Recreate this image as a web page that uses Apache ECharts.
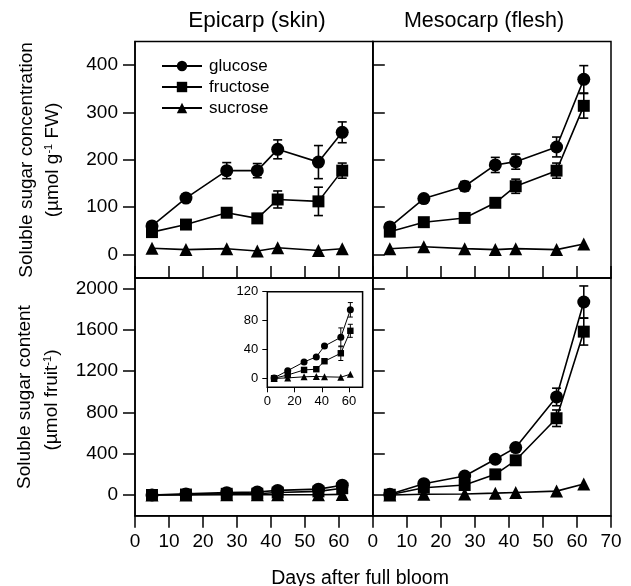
<!DOCTYPE html>
<html><head><meta charset="utf-8">
<script src="https://cdn.jsdelivr.net/npm/echarts@6/dist/echarts.min.js"></script>
<style>html,body{margin:0;padding:0;background:#fff}#c{width:631px;height:586px}</style>
</head><body><div id="c"></div>
<script>
// ---- data ----
const daysEpi = [5, 15, 27, 36, 42, 54, 61];
const daysMeso = [5, 15, 27, 36, 42, 54, 62];

// Concentration (µmol g-1 FW)
const epiConcGlucose = [60, 119, 177, 177, 222, 195, 258];
const epiConcGlucoseErr = [5, 8, 17, 15, 20, 35, 22];
const epiConcFructose = [47, 63, 88, 76, 116, 112, 177];
const epiConcFructoseErr = [4, 5, 8, 10, 18, 30, 16];
const epiConcSucrose = [13, 10, 12, 7, 14, 8, 12];

const mesoConcGlucose = [58, 118, 144, 189, 196, 227, 370];
const mesoConcGlucoseErr = [4, 6, 10, 16, 16, 21, 29];
const mesoConcFructose = [48, 68, 77, 109, 144, 177, 314];
const mesoConcFructoseErr = [3, 4, 5, 8, 15, 16, 26];
const mesoConcSucrose = [12, 16, 12, 10, 12, 10, 22];

// Content (µmol fruit-1)
const epiContGlucose = [1, 11, 23, 30, 45, 57, 95];
const epiContGlucoseErr = [0, 1, 1, 2, 2, 13, 10];
const epiContFructose = [0.5, 5, 12, 13, 24, 35, 66];
const epiContFructoseErr = [0, 0.5, 1, 1, 1, 10, 9];
const epiContSucrose = [0.2, 1, 2.5, 3, 2.5, 2, 6];

const mesoContGlucose = [7, 110, 184, 346, 459, 949, 1868];
const mesoContGlucoseErr = [2, 10, 15, 20, 25, 85, 155];
const mesoContFructose = [3, 71, 97, 200, 336, 743, 1581];
const mesoContFructoseErr = [2, 8, 10, 15, 20, 80, 130];
const mesoContSucrose = [1, 7, 10, 18, 25, 38, 106];

const concTicks = [0, 100, 200, 300, 400];
const contTicks = [0, 400, 800, 1200, 1600, 2000];
const insetYTicks = [0, 40, 80, 120];
const insetXTicks = [0, 20, 40, 60];
const seriesNames = ['glucose', 'fructose', 'sucrose'];

// ---- helpers ----
const FONT = "'Liberation Sans', Arial, Helvetica, sans-serif";
const symbols = {glucose: 'circle', fructose: 'rect', sucrose: 'triangle'};

function lineS(name, gi, xs, ys, size, lw) {
  return {
    type: 'line', name: name, xAxisIndex: gi, yAxisIndex: gi,
    data: xs.map((x, i) => [x, ys[i]]),
    symbol: symbols[name], symbolSize: name === 'fructose' ? size * 0.92 : size,
    showSymbol: true, showAllSymbol: true,
    lineStyle: {color: '#000', width: lw}, itemStyle: {color: '#000', borderWidth: 0},
    z: 4, clip: false, animation: false, emphasis: {disabled: true}
  };
}
function errS(gi, xs, ys, es, cap, lw) {
  return {
    type: 'custom', xAxisIndex: gi, yAxisIndex: gi, z: 3, clip: false, animation: false,
    data: xs.map((x, i) => [x, ys[i], es[i]]),
    encode: {x: 0, y: 1},
    renderItem: function (params, api) {
      const x = api.value(0), y = api.value(1), e = api.value(2);
      if (!e) return null;
      const hi = api.coord([x, y + e]);
      const lo = api.coord([x, y - e]);
      const st = {stroke: '#000', lineWidth: lw};
      return {type: 'group', children: [
        {type: 'line', shape: {x1: hi[0], y1: hi[1], x2: lo[0], y2: lo[1]}, style: st},
        {type: 'line', shape: {x1: hi[0] - cap, y1: hi[1], x2: hi[0] + cap, y2: hi[1]}, style: st},
        {type: 'line', shape: {x1: lo[0] - cap, y1: lo[1], x2: lo[0] + cap, y2: lo[1]}, style: st}
      ]};
    }
  };
}

// ---- layout ----
const L = 135, M = 372.8, R = 611, T = 41.5, MID = 278, B = 515.7;
const grids = [
  {left: L, top: T, width: M - L, height: MID - T},
  {left: M, top: T, width: R - M, height: MID - T},
  {left: L, top: MID, width: M - L, height: B - MID},
  {left: M, top: MID, width: R - M, height: B - MID},
  {left: 267.3, top: 291.7, width: 95.3, height: 95.6}
].map(g => Object.assign({show: true, borderColor: '#000', borderWidth: 1.5, backgroundColor: 'transparent', containLabel: false}, g));

const axLine = {show: true, onZero: false, lineStyle: {color: '#000', width: 1.5}};
const axLineThin = {show: true, onZero: false, lineStyle: {color: '#000', width: 1}};
const fmt = v => String(v);
function xAx(gi, opts) {
  return Object.assign({
    type: 'value', gridIndex: gi, min: 0, max: 70, interval: 10,
    axisLine: axLine, splitLine: {show: false},
    axisTick: {show: true, inside: true, length: 12, lineStyle: {color: '#000', width: 1.5}},
    axisLabel: {show: false}
  }, opts);
}
function yAx(gi, min, max, ticks, opts) {
  return Object.assign({
    type: 'value', gridIndex: gi, min: min, max: max,
    axisLine: axLine, splitLine: {show: false},
    axisTick: {show: true, inside: true, length: 12, customValues: ticks, lineStyle: {color: '#000', width: 1.5}},
    axisLabel: {show: false, customValues: ticks}
  }, opts);
}
const tickLbl = {show: true, color: '#000', fontSize: 19, fontFamily: FONT, formatter: fmt};

const xAxis = [
  xAx(0, {}),
  xAx(1, {}),
  xAx(2, {axisTick: {show: true, inside: false, length: 12, lineStyle: {color: '#000', width: 1.5}},
          axisLabel: Object.assign({}, tickLbl, {margin: 17, showMaxLabel: false, formatter: v => v === 70 ? '' : String(v)})}),
  xAx(3, {axisTick: {show: true, inside: false, length: 12, lineStyle: {color: '#000', width: 1.5}},
          axisLabel: Object.assign({}, tickLbl, {margin: 17})}),
  {type: 'value', gridIndex: 4, min: 0, max: 70,
   axisLine: axLineThin, splitLine: {show: false},
   axisTick: {show: true, inside: false, length: 5, customValues: insetXTicks, lineStyle: {color: '#000', width: 1}},
   axisLabel: {show: true, customValues: insetXTicks, color: '#000', fontSize: 13, fontFamily: FONT, margin: 8, formatter: fmt}}
];
const yAxis = [
  yAx(0, -50, 450, concTicks, {axisTick: {show: true, inside: false, length: 12, customValues: concTicks, lineStyle: {color: '#000', width: 1.5}},
      axisLabel: Object.assign({}, tickLbl, {customValues: concTicks, margin: 17})}),
  yAx(1, -50, 450, concTicks, {}),
  yAx(2, -200, 2100, contTicks, {axisTick: {show: true, inside: false, length: 12, customValues: contTicks, lineStyle: {color: '#000', width: 1.5}},
      axisLabel: Object.assign({}, tickLbl, {customValues: contTicks, margin: 17})}),
  yAx(3, -200, 2100, contTicks, {}),
  {type: 'value', gridIndex: 4, min: -12, max: 120,
   axisLine: axLineThin, splitLine: {show: false},
   axisTick: {show: true, inside: false, length: 5, customValues: insetYTicks, lineStyle: {color: '#000', width: 1}},
   axisLabel: {show: true, customValues: insetYTicks, color: '#000', fontSize: 13, fontFamily: FONT, margin: 9, formatter: fmt}}
];

const BIG = 13, LW = 1.6, CAP = 4.5;
const SM = 7, LWs = 1, CAPs = 2.5;
const series = [
  errS(0, daysEpi, epiConcGlucose, epiConcGlucoseErr, CAP, LW),
  errS(0, daysEpi, epiConcFructose, epiConcFructoseErr, CAP, LW),
  lineS('glucose', 0, daysEpi, epiConcGlucose, BIG, LW),
  lineS('fructose', 0, daysEpi, epiConcFructose, BIG, LW),
  lineS('sucrose', 0, daysEpi, epiConcSucrose, BIG, LW),

  errS(1, daysMeso, mesoConcGlucose, mesoConcGlucoseErr, CAP, LW),
  errS(1, daysMeso, mesoConcFructose, mesoConcFructoseErr, CAP, LW),
  lineS('glucose', 1, daysMeso, mesoConcGlucose, BIG, LW),
  lineS('fructose', 1, daysMeso, mesoConcFructose, BIG, LW),
  lineS('sucrose', 1, daysMeso, mesoConcSucrose, BIG, LW),

  lineS('glucose', 2, daysEpi, epiContGlucose, BIG, LW),
  lineS('fructose', 2, daysEpi, epiContFructose, BIG, LW),
  lineS('sucrose', 2, daysEpi, epiContSucrose, BIG, LW),

  errS(3, daysMeso, mesoContGlucose, mesoContGlucoseErr, CAP, LW),
  errS(3, daysMeso, mesoContFructose, mesoContFructoseErr, CAP, LW),
  lineS('glucose', 3, daysMeso, mesoContGlucose, BIG, LW),
  lineS('fructose', 3, daysMeso, mesoContFructose, BIG, LW),
  lineS('sucrose', 3, daysMeso, mesoContSucrose, BIG, LW),

  errS(4, daysEpi, epiContGlucose, epiContGlucoseErr, CAPs, LWs),
  errS(4, daysEpi, epiContFructose, epiContFructoseErr, CAPs, LWs),
  lineS('glucose', 4, daysEpi, epiContGlucose, SM, LWs),
  lineS('fructose', 4, daysEpi, epiContFructose, SM, LWs),
  lineS('sucrose', 4, daysEpi, epiContSucrose, SM, LWs)
];

const txt = {fill: '#000', fontFamily: FONT};
const graphic = [
  {type: 'text', x: 257, y: 21, style: Object.assign({text: 'Epicarp (skin)', fontSize: 22.5, align: 'center', verticalAlign: 'middle'}, txt)},
  {type: 'text', x: 484, y: 21, style: Object.assign({text: 'Mesocarp (flesh)', fontSize: 21.5, align: 'center', verticalAlign: 'middle'}, txt)},
  {type: 'text', x: 360, y: 579, style: Object.assign({text: 'Days after full bloom', fontSize: 19.5, align: 'center', verticalAlign: 'middle'}, txt)},
  {type: 'text', x: 27, y: 160, rotation: Math.PI / 2, style: Object.assign({text: 'Soluble sugar concentration', fontSize: 19, align: 'center', verticalAlign: 'middle'}, txt)},
  {type: 'text', x: 53, y: 160, rotation: Math.PI / 2, style: Object.assign({
    text: '{a|(µmol g}{s|-1}{a| FW)}', align: 'center', verticalAlign: 'middle',
    rich: {a: {fontSize: 19, fontFamily: FONT, fill: '#000', lineHeight: 20}, s: {fontSize: 11, fontFamily: FONT, fill: '#000', verticalAlign: 'top', lineHeight: 11}}}, txt)},
  {type: 'text', x: 25, y: 397, rotation: Math.PI / 2, style: Object.assign({text: 'Soluble sugar content', fontSize: 19, align: 'center', verticalAlign: 'middle'}, txt)},
  {type: 'text', x: 52, y: 400, rotation: Math.PI / 2, style: Object.assign({
    text: '{a|(µmol fruit}{s|-1}{a|)}', align: 'center', verticalAlign: 'middle',
    rich: {a: {fontSize: 19, fontFamily: FONT, fill: '#000', lineHeight: 20}, s: {fontSize: 11, fontFamily: FONT, fill: '#000', verticalAlign: 'top', lineHeight: 11}}}, txt)}
];

const chart = echarts.init(document.getElementById('c'), null, {renderer: 'canvas'});
chart.setOption({
  animation: false,
  backgroundColor: '#fff',
  grid: grids, xAxis: xAxis, yAxis: yAxis, series: series, graphic: graphic,
  legend: {
    data: seriesNames, orient: 'vertical', left: 156, top: 51,
    itemWidth: 40, itemHeight: 13, itemGap: 1, selectedMode: false,
    textStyle: {color: '#000', fontSize: 17, fontFamily: FONT, padding: [0, 0, 0, 2], lineHeight: 20}
  }
});
</script></body></html>
